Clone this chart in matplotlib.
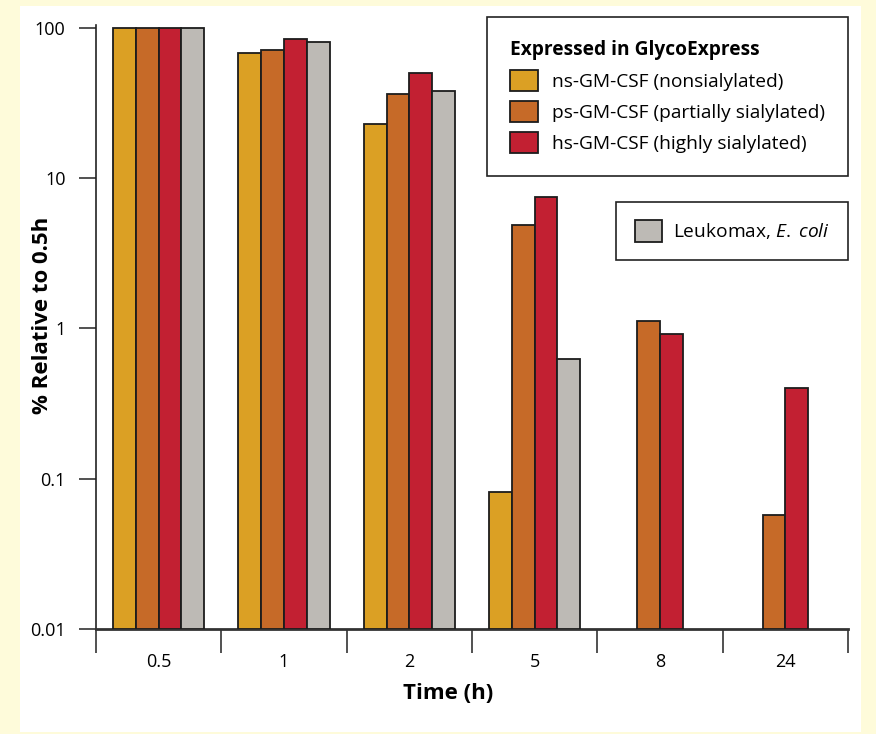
import numpy as np
import matplotlib.pyplot as plt
from matplotlib.patches import Patch, Rectangle

plt.rcParams['font.family'] = ['Open Sans', 'DejaVu Sans']
plt.rcParams['mathtext.fontset'] = 'custom'
plt.rcParams['mathtext.it'] = 'Open Sans:italic'
plt.rcParams['mathtext.rm'] = 'Open Sans'

# donnees (% relatif a 0.5h)
temps = ['0.5', '1', '2', '5', '8', '24']
ns_gmcsf = [100, 68, 23, 0.082, np.nan, np.nan]
ps_gmcsf = [100, 71, 36.5, 4.9, 1.12, 0.057]
hs_gmcsf = [100, 85, 50, 7.5, 0.92, 0.40]
leukomax = [100, 81, 38, 0.63, np.nan, np.nan]

series = [ns_gmcsf, ps_gmcsf, hs_gmcsf, leukomax]
couleurs = ['#DBA024', '#C66A28', '#C22032', '#BDBAB5']
noms = ['ns-GM-CSF (nonsialylated)', 'ps-GM-CSF (partially sialylated)',
        'hs-GM-CSF (highly sialylated)']

YMIN, YMAX = 0.01, 104.7
W = 0.182

fig = plt.figure(figsize=(8.76, 7.34), dpi=100, facecolor='#FEFBDA')
fond = Rectangle((20 / 876, 1 - 732 / 734), 841 / 876, 726 / 734,
                 transform=fig.transFigure, facecolor='white',
                 edgecolor='none', zorder=-10)
fig.add_artist(fond)
ax = fig.add_axes([96 / 876, 1 - 629 / 734, 752 / 876, 604 / 734])
ax.set_facecolor('none')
ax.set_zorder(5)

for g in range(len(temps)):
    presents = [k for k in range(4) if not np.isnan(series[k][g])]
    n = len(presents)
    for j, k in enumerate(presents):
        x = g + 0.5 + (j - (n - 1) / 2) * W
        v = series[k][g]
        ax.bar(x, v - YMIN, bottom=YMIN, width=W, color=couleurs[k],
               edgecolor='#1c1c1c', linewidth=1.3, zorder=3)

ax.set_yscale('log')
ax.set_ylim(YMIN, YMAX)
ax.set_xlim(0, len(temps))
ax.set_yticks([0.01, 0.1, 1, 10, 100])
ax.set_yticklabels(['0.01', '0.1', '1', '10', '100'])
ax.yaxis.set_minor_locator(plt.NullLocator())
ax.tick_params(axis='y', which='major', length=12, width=1.2, labelsize=13,
               pad=10, color='#333333')

ax.set_xticks(np.arange(len(temps) + 1))
ax.set_xticklabels([])
ax.set_xticks(np.arange(len(temps)) + 0.5, minor=True)
ax.set_xticklabels(temps, minor=True)
ax.tick_params(axis='x', which='major', length=17, width=1.2, color='#333333')
ax.tick_params(axis='x', which='minor', length=0, labelsize=13, pad=17)

for s in ['top', 'right']:
    ax.spines[s].set_visible(False)
ax.spines['left'].set_linewidth(1.2)
ax.spines['left'].set_color('#222222')
ax.spines['bottom'].set_linewidth(2)
ax.spines['bottom'].set_color('#333333')

ax.set_ylabel('% Relative to 0.5h', fontsize=16, fontweight='bold')
ax.yaxis.set_label_coords(-0.057, 0.52)
ax.set_xlabel('Time (h)', fontsize=16, fontweight='bold')
ax.xaxis.set_label_coords((448 - 96) / 752, -0.09)

poignees = [Patch(facecolor=couleurs[k], edgecolor='#1c1c1c', linewidth=1.3)
            for k in range(3)]
leg1 = ax.legend(poignees, noms, title='Expressed in GlycoExpress',
                 loc='upper right', bbox_to_anchor=(848 / 876, 1 - 17 / 734),
                 bbox_transform=fig.transFigure, fontsize=13.8, title_fontsize=13.8,
                 alignment='left', fancybox=False, edgecolor='#222222',
                 framealpha=1, handlelength=1.45, handleheight=1.35,
                 handletextpad=0.75, labelspacing=0.5, borderpad=1.2,
                 borderaxespad=0)
leg1.get_title().set_fontweight('bold')
leg1.get_frame().set_linewidth(1.2)
ax.add_artist(leg1)

leg2 = ax.legend([Patch(facecolor=couleurs[3], edgecolor='#1c1c1c', linewidth=1.3)],
                 [r'Leukomax, $\it{E.}$ $\it{coli}$'], loc='upper right',
                 bbox_to_anchor=(848 / 876, 1 - 202 / 734),
                 bbox_transform=fig.transFigure, fontsize=13.8, fancybox=False,
                 edgecolor='#222222', framealpha=1, handlelength=1.45,
                 handleheight=1.35, handletextpad=0.55, borderpad=0.95,
                 borderaxespad=0)
leg2.get_frame().set_linewidth(1.2)

fig.savefig('out.png', dpi=100, facecolor=fig.get_facecolor())
